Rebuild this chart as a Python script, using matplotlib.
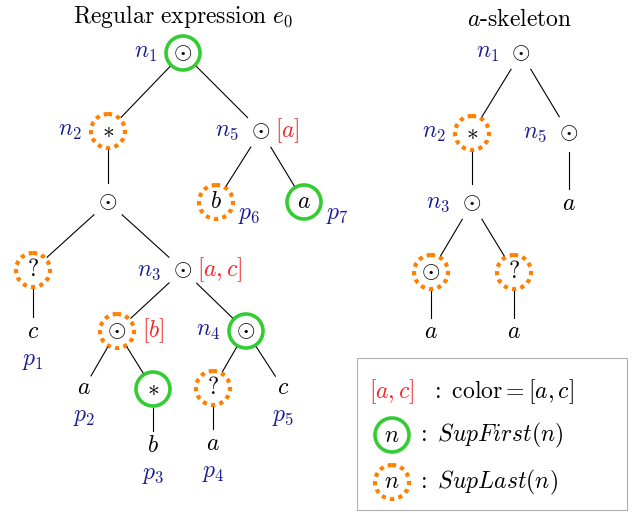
import matplotlib
matplotlib.use("Agg")
import matplotlib.pyplot as plt
from matplotlib.patches import Circle, Rectangle

plt.rcParams['mathtext.fontset'] = 'cm'
plt.rcParams['font.family'] = ['DejaVu Serif']

# ---------------- data ----------------
# Regular expression e0 : node id -> symbol
left_symbols = {
    'r': r'\odot', 'st': r'\ast', 'n5': r'\odot', 'c0': r'\odot',
    'p6': 'b', 'p7': 'a', 'q1': r'\mathrm{?}', 'n3': r'\odot',
    'p1': 'c', 'cb': r'\odot', 'n4': r'\odot', 'p2': 'a',
    'st2': r'\ast', 'q2': r'\mathrm{?}', 'p5': 'c', 'p3': 'b', 'p4': 'a',
}
left_edges = [('r', 'st'), ('r', 'n5'), ('st', 'c0'), ('n5', 'p6'), ('n5', 'p7'),
              ('c0', 'q1'), ('c0', 'n3'), ('q1', 'p1'), ('n3', 'cb'), ('n3', 'n4'),
              ('cb', 'p2'), ('cb', 'st2'), ('n4', 'q2'), ('n4', 'p5'),
              ('st2', 'p3'), ('q2', 'p4')]
left_names = {'r': 'n_1', 'st': 'n_2', 'n5': 'n_5', 'n3': 'n_3', 'n4': 'n_4'}
left_colors = {'n5': '[a]', 'n3': '[a,c]', 'cb': '[b]'}
left_first = ['r', 'p7', 'n4', 'st2']
left_last = ['st', 'p6', 'q1', 'cb', 'q2']
left_pos_side = {'p6': 'p_6', 'p7': 'p_7'}
left_pos_below = {'p1': 'p_1', 'p2': 'p_2', 'p3': 'p_3', 'p4': 'p_4', 'p5': 'p_5'}

# a-skeleton
right_symbols = {
    'r': r'\odot', 'st': r'\ast', 'n5': r'\odot', 'n3': r'\odot', 'a5': 'a',
    'c1': r'\odot', 'q': r'\mathrm{?}', 'a1': 'a', 'a2': 'a',
}
right_edges = [('r', 'st'), ('r', 'n5'), ('st', 'n3'), ('n5', 'a5'),
               ('n3', 'c1'), ('n3', 'q'), ('c1', 'a1'), ('q', 'a2')]
right_names = {'r': 'n_1', 'st': 'n_2', 'n5': 'n_5', 'n3': 'n_3'}
right_first = []
right_last = ['st', 'c1', 'q']

leaves = {'p6', 'p7', 'p1', 'p2', 'p3', 'p4', 'p5', 'a5', 'a1', 'a2'}

# ---------------- layout (pixels) ----------------
left_xy = {
    'r': (183, 53), 'st': (108, 131), 'n5': (261, 131), 'c0': (108, 202),
    'p6': (216, 202), 'p7': (304, 202), 'q1': (33, 270), 'n3': (183, 270),
    'p1': (33, 331), 'cb': (117, 331), 'n4': (246, 331), 'p2': (84, 388),
    'st2': (153, 389), 'q2': (213, 388), 'p5': (283, 388), 'p3': (153, 445),
    'p4': (213, 443),
}
right_xy = {
    'r': (521, 53), 'st': (472, 133), 'n5': (569, 133), 'n3': (472, 203),
    'a5': (569, 203), 'c1': (431, 272), 'q': (514, 272), 'a1': (431, 332),
    'a2': (514, 332),
}

GREEN = '#33cc33'
ORANGE = '#ff8000'
BLUE = '#1c1c94'
RED = '#f02828'
FS = 17
R = 17

W, H = 636, 513
fig = plt.figure(figsize=(W / 100, H / 100), dpi=100)
ax = fig.add_axes([0, 0, 1, 1])
ax.set_xlim(0, W)
ax.set_ylim(H, 0)
ax.set_aspect('equal')
ax.axis('off')


def ring(x, y, kind):
    if kind == 'first':
        ax.add_patch(Circle((x, y), R, fill=False, ec=GREEN, lw=2.6))
    else:
        ax.add_patch(Circle((x, y), R, fill=False, ec=ORANGE, lw=3.0,
                            ls=(0, (1, 1.05)), capstyle='butt'))


def draw_tree(symbols, edges, xy, names, colors, first, last, side, below):
    for a, b in edges:
        (x1, y1), (x2, y2) = xy[a], xy[b]
        dx, dy = x2 - x1, y2 - y1
        d = (dx * dx + dy * dy) ** 0.5
        s1 = 19
        s2 = 14 if b in leaves and b not in first and b not in last else 19
        ax.plot([x1 + dx * s1 / d, x2 - dx * s2 / d],
                [y1 + dy * s1 / d, y2 - dy * s2 / d], color='black', lw=0.8)
    for k, sym in symbols.items():
        x, y = xy[k]
        ax.text(x, y, '$' + sym + '$', fontsize=FS, ha='center', va='center')
        circled = k in first or k in last
        if k in first:
            ring(x, y, 'first')
        if k in last:
            ring(x, y, 'last')
        if k in names:
            ax.text(x - (26 if circled else 22), y, '$' + names[k] + '$',
                    fontsize=FS, color=BLUE, ha='right', va='center')
        if k in colors:
            ax.text(x + (25 if circled else 14), y, '$' + colors[k] + '$',
                    fontsize=FS, color=RED, ha='left', va='center')
        if k in side:
            ax.text(x + 22, y + 13, '$' + side[k] + '$', fontsize=FS,
                    color=BLUE, ha='left', va='center')
        if k in below:
            ax.text(x, y + 29, '$' + below[k] + '$', fontsize=FS,
                    color=BLUE, ha='center', va='center')


draw_tree(left_symbols, left_edges, left_xy, left_names, left_colors,
          left_first, left_last, left_pos_side, left_pos_below)
draw_tree(right_symbols, right_edges, right_xy, right_names, {},
          right_first, right_last, {}, {})

ax.text(183, 16, r'$\mathrm{Regular\ expression}\ e_0$', fontsize=FS,
        ha='center', va='center')
ax.text(520, 20, r'$a\mathrm{\text{-}skeleton}$', fontsize=FS,
        ha='center', va='center')

# legend box
ax.add_patch(Rectangle((357, 358), 270, 152, fill=False, ec='#b0b0b0', lw=0.8))
ax.text(392, 392, '$[a,c]$', fontsize=FS, color=RED, ha='center', va='center')
ax.text(430, 392, r'$:\ \mathrm{color} = [a,c]$', fontsize=FS, ha='left', va='center')
ax.text(392, 435, '$n$', fontsize=FS, ha='center', va='center')
ring(392, 435, 'first')
ax.text(416, 435, r'$:\ SupFirst(n)$', fontsize=FS, ha='left', va='center')
ax.text(392, 482, '$n$', fontsize=FS, ha='center', va='center')
ring(392, 482, 'last')
ax.text(416, 482, r'$:\ SupLast(n)$', fontsize=FS, ha='left', va='center')

fig.savefig('out.png', dpi=100)
